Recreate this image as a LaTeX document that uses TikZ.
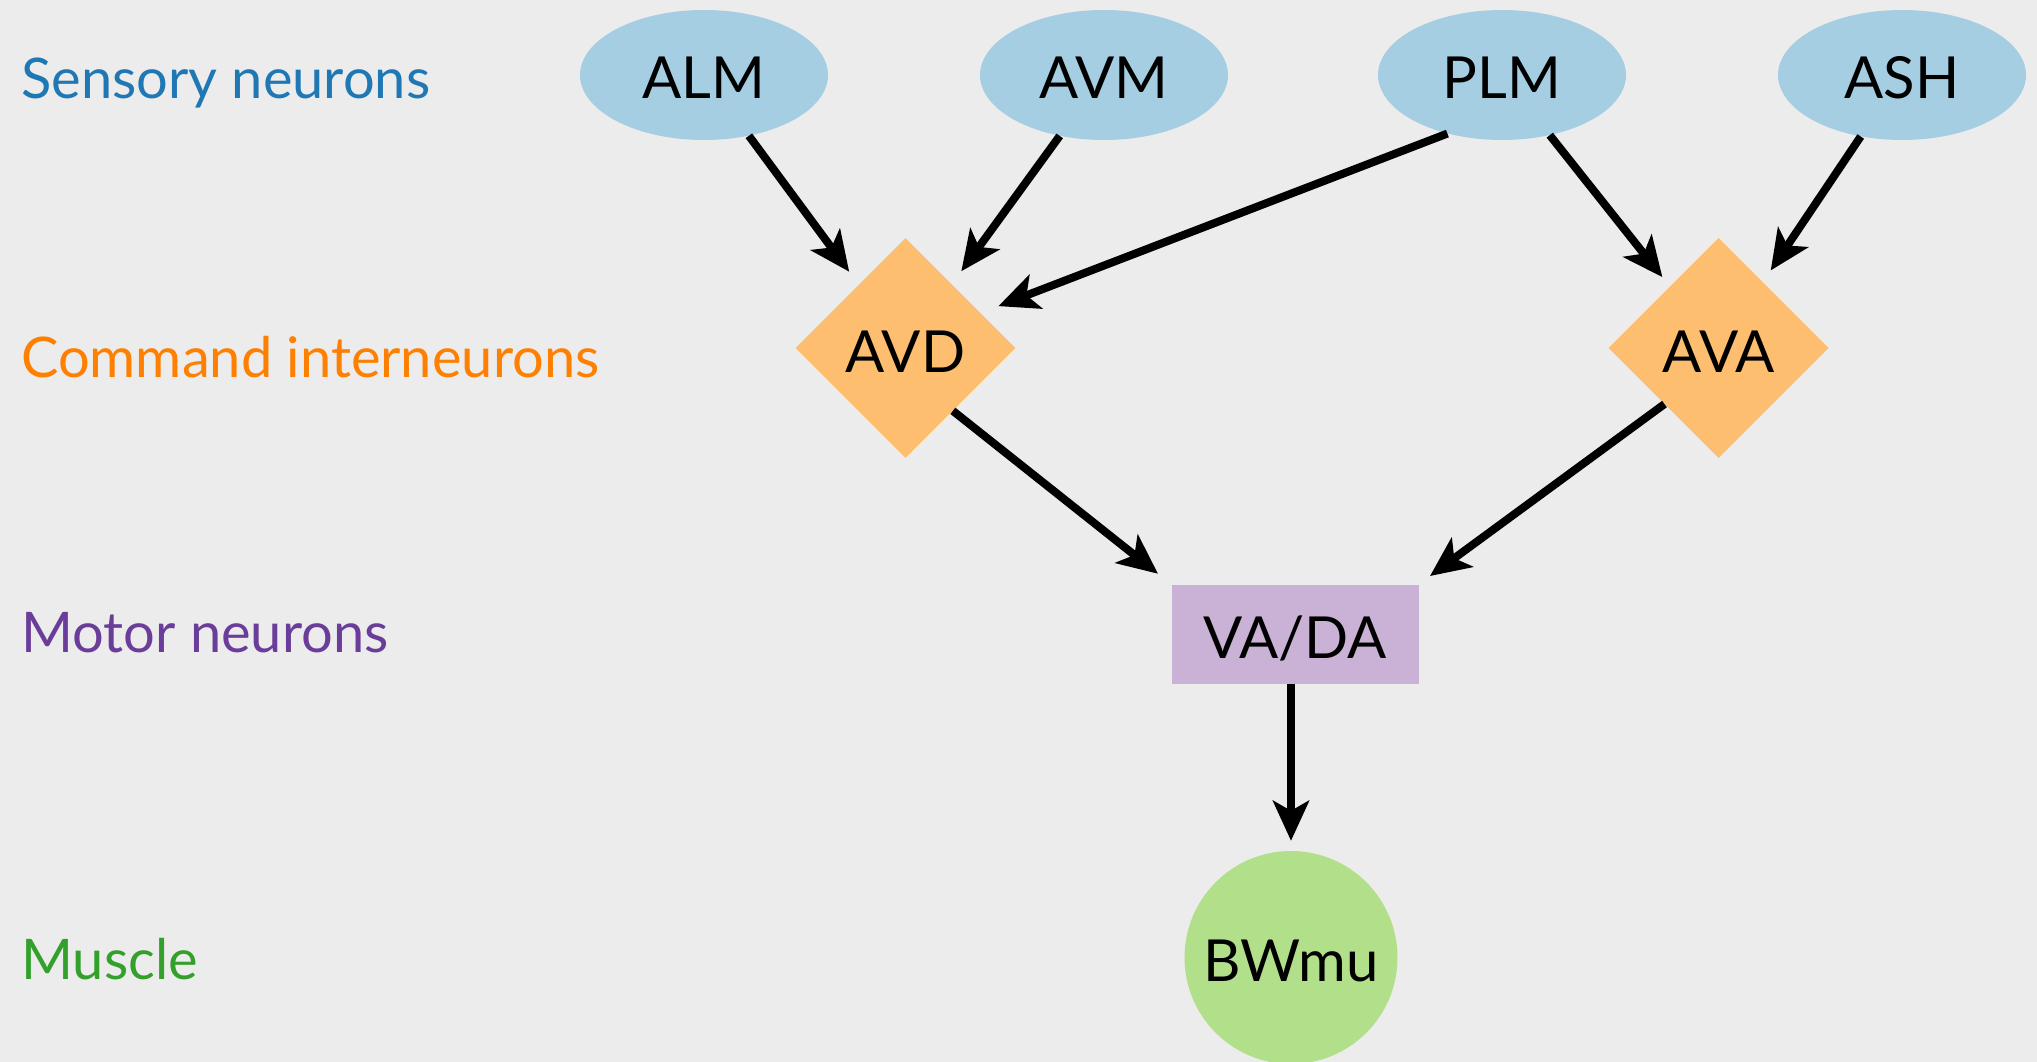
\documentclass[tikz,border=0pt]{standalone}
\usepackage{fontspec}
\setmainfont{Lato}
\usetikzlibrary{shapes.geometric,arrows.meta}
\definecolor{bgc}{HTML}{ECECEC}
\definecolor{sensfill}{HTML}{A6CEE3}
\definecolor{senstext}{HTML}{1F78B4}
\definecolor{cmdfill}{HTML}{FDBF6F}
\definecolor{cmdtext}{HTML}{FF7F00}
\definecolor{motfill}{HTML}{CAB2D6}
\definecolor{mottext}{HTML}{6A3D9A}
\definecolor{musfill}{HTML}{B2DF8A}
\definecolor{mustext}{HTML}{33A02C}
\begin{document}
\begin{tikzpicture}[x=1pt,y=-1pt,
  every node/.style={font=\fontsize{58}{70}\selectfont},
  nodetext/.style={text height=48pt, text depth=0pt},
  sens/.style={nodetext, ellipse, fill=sensfill, minimum width=248pt, minimum height=130pt, inner sep=0pt},
  cmd/.style={nodetext, diamond, fill=cmdfill, minimum width=220pt, minimum height=220pt, inner sep=0pt, aspect=1},
  mot/.style={nodetext, rectangle, fill=motfill, minimum width=247pt, minimum height=99pt, inner sep=0pt},
  mus/.style={nodetext, circle, fill=musfill, minimum size=213pt, inner sep=0pt},
  conn/.style={line width=8pt, -{Stealth[length=40pt,width=36pt,inset=10pt]}},
  lbl/.style={anchor=base west, inner sep=0pt, font=\fontsize{56}{68}\selectfont}
]
\path[fill=bgc] (0,0) rectangle (2037,1062);
\useasboundingbox (0,0) rectangle (2037,1062);

\node[lbl, text=senstext] (lsens) at (21,99) {Sensory neurons};
\node[lbl, text=cmdtext] (lcmd) at (21,377) {Command interneurons};
\node[lbl, text=mottext] (lmot) at (21,652) {Motor neurons};
\node[lbl, text=mustext] (lmus) at (21,979) {Muscle};

\node[sens] (ALM) at (704,75) {ALM};
\node[sens] (AVM) at (1104,75) {AVM};
\node[sens] (PLM) at (1502,75) {PLM};
\node[sens] (ASH) at (1902,75) {ASH};
\node[cmd] (AVD) at (905.5,348) {AVD};
\node[cmd] (AVA) at (1718.6,348) {AVA};
\node[mot] (VADA) at (1295,634) {VA/DA};
\node[mus] (BW) at (1291,957.5) {BWmu};

\draw[conn, shorten >=16pt] (ALM) -- (AVD);
\draw[conn, shorten >=16pt] (AVM) -- (AVD);
\draw[conn, shorten >=19pt] (PLM.227) -- (AVD.25);
\draw[conn, shorten >=12pt] (PLM) -- (AVA);
\draw[conn, shorten >=14pt] (ASH) -- (AVA);
\draw[conn, shorten >=17pt] (AVD.-53) -- (VADA.north west);
\draw[conn, shorten >=14pt] (AVA.226) -- (VADA.north east);
\draw[conn, shorten >=10pt] (VADA.south -| BW.north) -- (BW.north);
\end{tikzpicture}
\end{document}
